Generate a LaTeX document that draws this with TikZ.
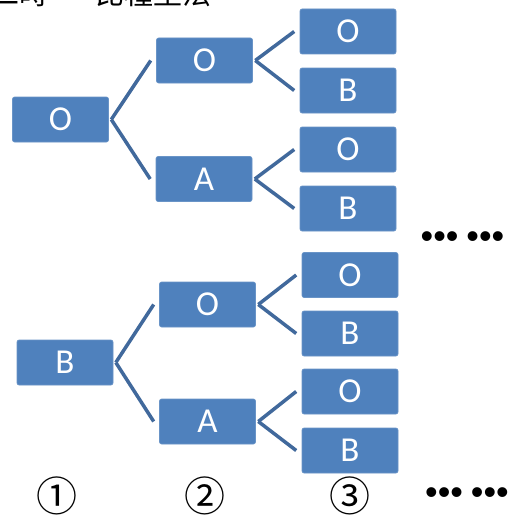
\documentclass[tikz,border=0pt]{standalone}
\usepackage{fontspec}
\setmainfont{Carlito}
\newfontfamily\cjkfont{Noto Sans CJK SC}
\newfontfamily\dotfont{Liberation Sans}
\definecolor{boxblue}{HTML}{4F81BD}
\definecolor{lineblue}{HTML}{41699C}
\begin{document}
\begin{tikzpicture}[x=1pt,y=-1pt,
  box/.style={rectangle, rounded corners=2pt, fill=boxblue, draw=boxblue!85!white, line width=0.6pt,
    minimum width=96pt, minimum height=45pt, inner sep=0pt, text=white,
    font=\fontsize{35}{35}\selectfont},
  conn/.style={draw=lineblue, line width=3.5pt, line cap=butt},
  lbl/.style={inner sep=0pt, text=black},
  dots/.style={inner sep=0pt, text=black, font=\dotfont\fontsize{36}{36}\selectfont},
  stepnum/.style={inner sep=0pt, text=black, font=\cjkfont\fontsize{41}{41}\selectfont}
]
\clip (0,0) rectangle (516,519);
\fill[white] (0,0) rectangle (516,519);
% clipped title
\node[lbl, anchor=base west, font=\cjkfont\fontsize{29}{29}\selectfont] (title) at (-10,5) {二時\hspace{14pt}一\hspace{4pt}比種型法};
% top tree
\node[box] (a1) at (60.5,119.5) {O};
\node[box] (a2) at (204.5,60.5) {O};
\node[box] (a3) at (204,179) {A};
\node[box] (a4) at (348,31.5) {O};
\node[box] (a5) at (348,90.5) {B};
\node[box] (a6) at (348,149.5) {O};
\node[box] (a7) at (348,208.5) {B};
% bottom tree
\node[box] (b1) at (65,362.5) {B};
\node[box] (b2) at (207.5,304.5) {O};
\node[box] (b3) at (207.5,421.5) {A};
\node[box] (b4) at (350,275) {O};
\node[box] (b5) at (350,333.5) {B};
\node[box] (b6) at (350,391.5) {O};
\node[box] (b7) at (350,450.5) {B};
% connectors
\foreach \p/\c in {a1/a2,a1/a3,a2/a4,a2/a5,a3/a6,a3/a7,b1/b2,b1/b3,b2/b4,b2/b5,b3/b6,b3/b7}{
  \draw[conn] ([xshift=2.5pt]\p.east) -- ([xshift=-5.5pt]\c.west);
}
% dots
\node[dots] (d1) at (462.5,240) {•••\hspace{8pt}•••};
\node[dots] (d2) at (467,496) {•••\hspace{8pt}•••};
% step labels
\node[stepnum] (s1) at (57,496) {①};
\node[stepnum] (s2) at (205,496) {②};
\node[stepnum] (s3) at (350,496) {③};
\end{tikzpicture}
\end{document}
